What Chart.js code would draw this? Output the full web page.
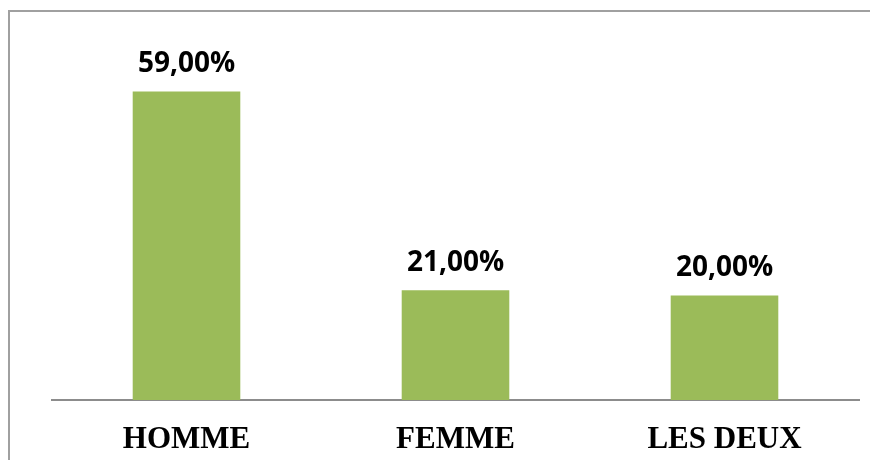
<!DOCTYPE html>
<html>
<head>
<meta charset="utf-8">
<style>
  html, body { margin: 0; padding: 0; background: #fff; }
  canvas { display: block; }
</style>
<script src="https://cdn.jsdelivr.net/npm/chart.js@4/dist/chart.umd.min.js"></script>
</head>
<body>
<canvas id="genreChart" width="870" height="460"></canvas>
<script>
const categories = ['HOMME', 'FEMME', 'LES DEUX'];
const percentages = [59, 21, 20];

// thin grey frame: only its left and top edges fall inside the canvas
const framePlugin = {
  id: 'frame',
  beforeDraw(chart) {
    const ctx = chart.ctx;
    ctx.save();
    ctx.strokeStyle = '#a0a0a0';
    ctx.lineWidth = 2;
    ctx.beginPath();
    ctx.moveTo(9, 460);
    ctx.lineTo(9, 11);
    ctx.lineTo(870, 11);
    ctx.stroke();
    ctx.restore();
  }
};

// value written above each bar, french decimal comma
const valueLabels = {
  id: 'valueLabels',
  afterDatasetsDraw(chart) {
    const ctx = chart.ctx;
    const meta = chart.getDatasetMeta(0);
    ctx.save();
    ctx.font = 'bold 28px "Open Sans", sans-serif';
    ctx.fillStyle = '#000';
    ctx.textAlign = 'center';
    ctx.textBaseline = 'middle';
    meta.data.forEach((bar, i) => {
      const txt = percentages[i].toFixed(2).replace('.', ',') + '%';
      ctx.fillText(txt, bar.x, bar.y - 27);
    });
    ctx.restore();
  }
};

const ctx = document.getElementById('genreChart').getContext('2d');
const myChart = new Chart(ctx, {
  type: 'bar',
  data: {
    labels: categories,
    datasets: [{
      data: percentages,
      backgroundColor: '#9bbb59',
      borderWidth: 0,
      barPercentage: 0.4,
      categoryPercentage: 1
    }]
  },
  options: {
    responsive: false,
    animation: false,
    layout: {
      padding: { left: 52, right: 11, top: 34, bottom: 5 }
    },
    plugins: {
      legend: { display: false },
      tooltip: { enabled: false }
    },
    scales: {
      x: {
        grid: { display: false, drawTicks: false },
        border: { display: true, color: '#8c8c8c', width: 2 },
        ticks: {
          color: '#000',
          padding: 21,
          font: { family: '"Liberation Serif", serif', size: 31, weight: 'bold' }
        },
        afterFit(scale) {
          scale.height = 55;
        }
      },
      y: {
        display: false,
        min: 0,
        max: 70
      }
    }
  },
  plugins: [framePlugin, valueLabels]
});
</script>
</body>
</html>
